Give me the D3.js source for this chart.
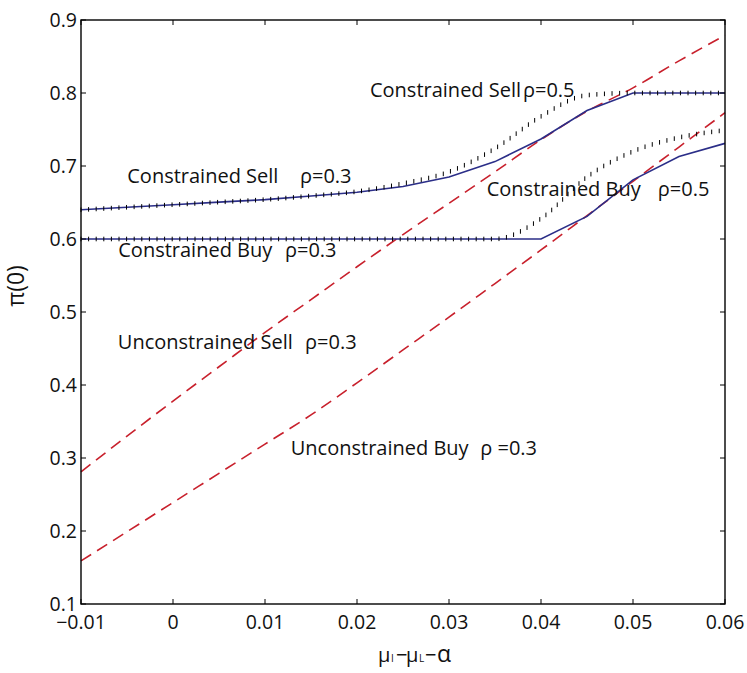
<!DOCTYPE html>
<html>
<head>
<meta charset="utf-8">
<script src="https://cdn.jsdelivr.net/npm/d3@7"></script>
<style>
  body { margin: 0; background: #fff; }
  svg { display: block; }
  text { font-family: "Open Sans", sans-serif; fill: #111; }
</style>
</head>
<body>
<svg id="chart" width="747" height="673"></svg>
<script>
// Excess drift grid (mu_I - mu_L - alpha)
const xGrid = [-0.01, -0.005, 0, 0.005, 0.01, 0.015, 0.02, 0.025, 0.03, 0.035, 0.04, 0.045, 0.05, 0.055, 0.06];

// pi(0) for each strategy
const constrainedSell03 = [0.640, 0.6435, 0.647, 0.6505, 0.654, 0.659, 0.664, 0.672, 0.685, 0.706, 0.737, 0.776, 0.800, 0.800, 0.800];
const constrainedSell05 = [0.640, 0.6435, 0.647, 0.6505, 0.654, 0.659, 0.665, 0.676, 0.692, 0.724, 0.768, 0.797, 0.800, 0.800, 0.800];
const constrainedBuy03  = [0.600, 0.600, 0.600, 0.600, 0.600, 0.600, 0.600, 0.600, 0.600, 0.600, 0.600, 0.631, 0.681, 0.713, 0.731];
const constrainedBuy05  = [0.600, 0.600, 0.600, 0.600, 0.600, 0.600, 0.600, 0.600, 0.600, 0.600, 0.628, 0.685, 0.720, 0.739, 0.749];
const unconstrainedSell03 = [0.281, 0.330, 0.378, 0.425, 0.472, 0.517, 0.562, 0.606, 0.649, 0.692, 0.736, 0.775, 0.807, 0.844, 0.879];
const unconstrainedBuy03  = [0.159, 0.199, 0.239, 0.279, 0.319, 0.359, 0.403, 0.448, 0.493, 0.539, 0.585, 0.632, 0.679, 0.726, 0.773];

const xTicks = [-0.01, 0, 0.01, 0.02, 0.03, 0.04, 0.05, 0.06];
const xTickLabels = ["\u22120.01", "0", "0.01", "0.02", "0.03", "0.04", "0.05", "0.06"];
const yTicks = [0.1, 0.2, 0.3, 0.4, 0.5, 0.6, 0.7, 0.8, 0.9];
const yTickLabels = ["0.1", "0.2", "0.3", "0.4", "0.5", "0.6", "0.7", "0.8", "0.9"];

// Curve annotations, anchored in data units
const annotations = [
  { text: "Constrained Sell",   x: -0.00497, y: 0.6763 },
  { text: "\u03c1=0.3",          x: 0.0138,   y: 0.6763 },
  { text: "Constrained Buy",    x: -0.00595, y: 0.5750 },
  { text: "\u03c1=0.3",          x: 0.01217,  y: 0.5750 },
  { text: "Constrained Sell",   x: 0.02141,  y: 0.7950 },
  { text: "\u03c1=0.5",          x: 0.03804,  y: 0.7950 },
  { text: "Constrained Buy",    x: 0.03410,  y: 0.6590 },
  { text: "\u03c1=0.5",          x: 0.05270,  y: 0.6590 },
  { text: "Unconstrained Sell", x: -0.00600, y: 0.4500 },
  { text: "\u03c1=0.3",          x: 0.01435,  y: 0.4500 },
  { text: "Unconstrained Buy",  x: 0.01280,  y: 0.3040 },
  { text: "\u03c1 =0.3",         x: 0.03340,  y: 0.3040 }
];

const W = 747, H = 673;
const margin = { left: 81, top: 20, right: 22, bottom: 69 };
const svg = d3.select("#chart");

const x = d3.scaleLinear().domain([-0.01, 0.06]).range([margin.left, W - margin.right]);
const y = d3.scaleLinear().domain([0.1, 0.9]).range([H - margin.bottom, margin.top]);

const BLUE = "#2b2e88";
const RED = "#c8202c";

const line = (vals, curve) => d3.line()
  .x((d, i) => x(xGrid[i]))
  .y(d => y(d))
  .curve(curve || d3.curveLinear)(vals);

const plot = svg.append("g");

// Unconstrained strategies: red dashed
[unconstrainedSell03, unconstrainedBuy03].forEach(vals => {
  plot.append("path")
    .attr("d", line(vals, d3.curveMonotoneX))
    .attr("fill", "none")
    .attr("stroke", RED)
    .attr("stroke-width", 1.6)
    .attr("stroke-dasharray", "12,7");
});

// Constrained strategies, rho = 0.3: blue solid
[constrainedSell03, constrainedBuy03].forEach(vals => {
  plot.append("path")
    .attr("d", line(vals))
    .attr("fill", "none")
    .attr("stroke", BLUE)
    .attr("stroke-width", 1.6);
});

// Constrained strategies, rho = 0.5: black dotted, drawn as short vertical dots along the curve
[constrainedSell05, constrainedBuy05].forEach(vals => {
  const p = plot.append("path")
    .attr("d", line(vals, d3.curveMonotoneX))
    .attr("fill", "none")
    .attr("stroke", "none");
  const node = p.node();
  const len = node.getTotalLength();
  const step = 7.6;
  const pts = d3.range(0, len + 0.01, step).map(l => node.getPointAtLength(l));
  plot.append("g").selectAll("line").data(pts).join("line")
    .attr("x1", d => d.x).attr("x2", d => d.x)
    .attr("y1", d => d.y - 2.3).attr("y2", d => d.y + 2.3)
    .attr("stroke", "#000")
    .attr("stroke-width", 1);
});

// Frame and ticks
const axes = svg.append("g");
axes.append("rect")
  .attr("x", x(-0.01)).attr("y", y(0.9))
  .attr("width", x(0.06) - x(-0.01)).attr("height", y(0.1) - y(0.9))
  .attr("fill", "none").attr("stroke", "#000").attr("stroke-width", 1.4);

const TL = 5;
axes.append("g").selectAll("line").data(xTicks).join("line")
  .attr("x1", d => x(d)).attr("x2", d => x(d))
  .attr("y1", y(0.1)).attr("y2", y(0.1) - TL)
  .attr("stroke", "#000").attr("stroke-width", 1);
axes.append("g").selectAll("line").data(xTicks).join("line")
  .attr("x1", d => x(d)).attr("x2", d => x(d))
  .attr("y1", y(0.9)).attr("y2", y(0.9) + TL)
  .attr("stroke", "#000").attr("stroke-width", 1);
axes.append("g").selectAll("line").data(yTicks).join("line")
  .attr("x1", x(-0.01)).attr("x2", x(-0.01) + TL)
  .attr("y1", d => y(d)).attr("y2", d => y(d))
  .attr("stroke", "#000").attr("stroke-width", 1);
axes.append("g").selectAll("line").data(yTicks).join("line")
  .attr("x1", x(0.06)).attr("x2", x(0.06) - TL)
  .attr("y1", d => y(d)).attr("y2", d => y(d))
  .attr("stroke", "#000").attr("stroke-width", 1);

// Tick labels
axes.append("g").selectAll("text").data(xTicks).join("text")
  .attr("x", d => x(d)).attr("y", y(0.1) + 25)
  .attr("text-anchor", "middle")
  .style("font-size", "19.5px")
  .text((d, i) => xTickLabels[i]);
axes.append("g").selectAll("text").data(yTicks).join("text")
  .attr("x", x(-0.01) - 4).attr("y", d => y(d))
  .attr("dy", "0.34em")
  .attr("text-anchor", "end")
  .style("font-size", "19.5px")
  .text((d, i) => yTickLabels[i]);

// Axis titles
const xt = svg.append("text")
  .attr("y", 662)
  .style("font-size", "20px");
xt.append("tspan").attr("x", 378).text("\u03bc");
xt.append("tspan").attr("x", 391).style("font-size", "10px").text("I");
xt.append("tspan").attr("x", 396).text("\u2212");
xt.append("tspan").attr("x", 406).text("\u03bc");
xt.append("tspan").attr("x", 419).style("font-size", "10px").text("L");
xt.append("tspan").attr("x", 425).text("\u2212");
xt.append("tspan").attr("x", 437).style("font-size", "23px").text("\u03b1");

svg.append("text")
  .attr("transform", `translate(24,${286}) rotate(-90)`)
  .attr("text-anchor", "middle")
  .style("font-size", "23px")
  .text("\u03c0(0)");

// Curve annotations
svg.append("g").selectAll("text").data(annotations).join("text")
  .attr("x", d => x(d.x)).attr("y", d => y(d.y))
  .style("font-size", "20px")
  .style("white-space", "pre")
  .attr("xml:space", "preserve")
  .text(d => d.text);
</script>
</body>
</html>
